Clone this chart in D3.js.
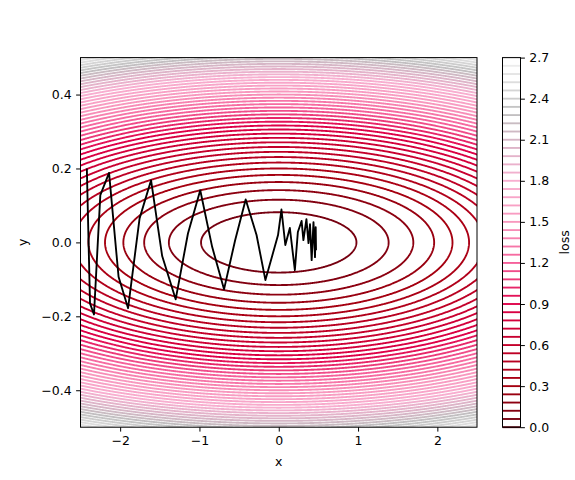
<!DOCTYPE html>
<html>
<head>
<meta charset="utf-8">
<script src="https://cdn.jsdelivr.net/npm/d3@7"></script>
<style>
  body { margin: 0; background: #fff; }
  svg { font-family: "DejaVu Sans", sans-serif; }
</style>
</head>
<body>
<div id="chart"></div>
<script>
// Loss surface: loss = lossCoefX * x^2 + lossCoefY * y^2
const lossCoefX = 1 / 16;
const lossCoefY = 9;

// Contour levels, 0.0 .. 2.7 in steps of 0.06
const levelStep = 0.06;
const levelCount = 46;
const levels = d3.range(levelCount).map(i => +(i * levelStep).toFixed(2));

// Optimizer path (black line)
const pathX = [-2.42, -2.38, -2.33, -2.25, -2.14, -2.02, -1.90, -1.755, -1.61, -1.47,
               -1.30, -1.145, -0.99, -0.84, -0.69, -0.55, -0.417, -0.28, -0.168, -0.009,
               0.034, 0.083, 0.14, 0.203, 0.241, 0.288, 0.311, 0.349, 0.375, 0.394,
               0.415, 0.438, 0.457, 0.466, 0.47];
const pathY = [0.2, -0.165, -0.195, 0.128, 0.188, -0.093, -0.178, 0.065, 0.168, -0.037,
               -0.154, 0.024, 0.141, -0.012, -0.127, 0.006, 0.116, 0.02, -0.102, 0.02,
               0.089, -0.007, 0.039, -0.075, 0.028, 0.058, 0.006, 0.063, -0.002, 0.049,
               -0.048, 0.055, -0.04, 0.041, -0.021];

// Tick labels
const xTicks = [-2, -1, 0, 1, 2];
const yTicks = [-0.4, -0.2, 0.0, 0.2, 0.4];
const cbTicks = [0.0, 0.3, 0.6, 0.9, 1.2, 1.5, 1.8, 2.1, 2.4, 2.7];

// Colormap stops (loss value -> colour)
const cmapValues = [0.0, 0.3, 0.6, 0.9, 1.2, 1.5, 1.8, 2.1, 2.3, 2.7];
const cmapColors = ['#6a0010', '#a50010', '#c4002a', '#de0048', '#f5609a',
                    '#f898be', '#f8aed0', '#d6b6c6', '#c0c0c0', '#f4f4f4'];

const W = 575, H = 480;
const ax = { left: 80.5, right: 477, top: 57.6, bottom: 427.2 };
const cb = { left: 502.5, right: 520.5 };
const fontSize = 12.5;
const lineW = 1.875;
const tickLen = 4.4;

const svg = d3.select('#chart').append('svg')
    .attr('width', W)
    .attr('height', H);

const x = d3.scaleLinear().domain([-2.5, 2.5]).range([ax.left, ax.right]);
const y = d3.scaleLinear().domain([-0.5, 0.5]).range([ax.bottom, ax.top]);
const color = d3.scaleLinear().domain(cmapValues).range(cmapColors).interpolate(d3.interpolateRgb);

svg.append('clipPath').attr('id', 'clip')
    .append('rect')
    .attr('x', ax.left).attr('y', ax.top)
    .attr('width', ax.right - ax.left).attr('height', ax.bottom - ax.top);

// Sample the loss on a padded grid so polygon borders fall outside the clip
const gx0 = -2.7, gx1 = 2.7, gy0 = -0.6, gy1 = 0.6;
const nx = 680, ny = 560;
const sx = (gx1 - gx0) / (nx - 1), sy = (gy1 - gy0) / (ny - 1);
const values = new Float64Array(nx * ny);
for (let j = 0; j < ny; j++) {
    const yy = gy0 + j * sy;
    for (let i = 0; i < nx; i++) {
        const xx = gx0 + i * sx;
        values[j * nx + i] = lossCoefX * xx * xx + lossCoefY * yy * yy;
    }
}

const toScreen = d3.geoTransform({
    point: function(gx, gy) {
        this.stream.point(x(gx0 + (gx - 0.5) * sx), y(gy0 + (gy - 0.5) * sy));
    }
});
const geoPath = d3.geoPath(toScreen);

const contours = d3.contours()
    .size([nx, ny])
    .thresholds(levels.slice(1))(values);

svg.append('g')
    .attr('clip-path', 'url(#clip)')
    .selectAll('path')
    .data(contours)
    .join('path')
    .attr('d', geoPath)
    .attr('fill', 'none')
    .attr('stroke', d => color(d.value))
    .attr('stroke-width', lineW);

// Optimizer path
const line = d3.line()
    .x(d => x(d[0]))
    .y(d => y(d[1]));

svg.append('path')
    .datum(pathX.map((v, i) => [v, pathY[i]]))
    .attr('clip-path', 'url(#clip)')
    .attr('fill', 'none')
    .attr('stroke', '#000')
    .attr('stroke-width', lineW)
    .attr('stroke-linejoin', 'round')
    .attr('d', line);

// Axes
const fmtMinus = s => s.replace('-', '\u2212');

const xAxis = svg.append('g')
    .attr('transform', `translate(0,${ax.bottom})`)
    .call(d3.axisBottom(x).tickValues(xTicks).tickSize(tickLen).tickPadding(4.4)
        .tickFormat(d => fmtMinus(d3.format('d')(d))));

const yAxis = svg.append('g')
    .attr('transform', `translate(${ax.left},0)`)
    .call(d3.axisLeft(y).tickValues(yTicks).tickSize(tickLen).tickPadding(4.4)
        .tickFormat(d => fmtMinus(d3.format('.1f')(d))));

[xAxis, yAxis].forEach(g => {
    g.select('.domain').remove();
    g.selectAll('line').attr('stroke', '#000').attr('stroke-width', 1);
    g.selectAll('text').attr('fill', '#000').style('font-size', fontSize + 'px')
        .style('font-family', '"DejaVu Sans", sans-serif');
});

// Frame
svg.append('rect')
    .attr('x', ax.left).attr('y', ax.top)
    .attr('width', ax.right - ax.left).attr('height', ax.bottom - ax.top)
    .attr('fill', 'none')
    .attr('stroke', '#000')
    .attr('stroke-width', 1);

svg.append('text')
    .attr('x', (ax.left + ax.right) / 2)
    .attr('y', 466)
    .attr('text-anchor', 'middle')
    .style('font-size', fontSize + 'px')
    .text('x');

svg.append('text')
    .attr('transform', `translate(27,${(ax.top + ax.bottom) / 2}) rotate(-90)`)
    .attr('text-anchor', 'middle')
    .style('font-size', fontSize + 'px')
    .text('y');

// Colorbar with one line per contour level
const cbY = d3.scaleLinear().domain([0, 2.7]).range([ax.bottom, ax.top]);

svg.append('g')
    .selectAll('line')
    .data(levels)
    .join('line')
    .attr('x1', cb.left).attr('x2', cb.right)
    .attr('y1', d => cbY(d)).attr('y2', d => cbY(d))
    .attr('stroke', d => color(d))
    .attr('stroke-width', lineW);

svg.append('rect')
    .attr('x', cb.left).attr('y', ax.top)
    .attr('width', cb.right - cb.left).attr('height', ax.bottom - ax.top)
    .attr('fill', 'none')
    .attr('stroke', '#000')
    .attr('stroke-width', 1);

const cbAxis = svg.append('g')
    .attr('transform', `translate(${cb.right},0)`)
    .call(d3.axisRight(cbY).tickValues(cbTicks).tickSize(tickLen).tickPadding(4.4)
        .tickFormat(d3.format('.1f')));
cbAxis.select('.domain').remove();
cbAxis.selectAll('line').attr('stroke', '#000').attr('stroke-width', 1);
cbAxis.selectAll('text').attr('fill', '#000').style('font-size', fontSize + 'px')
    .style('font-family', '"DejaVu Sans", sans-serif');

svg.append('text')
    .attr('transform', `translate(569,${(ax.top + ax.bottom) / 2}) rotate(-90)`)
    .attr('text-anchor', 'middle')
    .style('font-size', fontSize + 'px')
    .text('loss');
</script>
</body>
</html>
